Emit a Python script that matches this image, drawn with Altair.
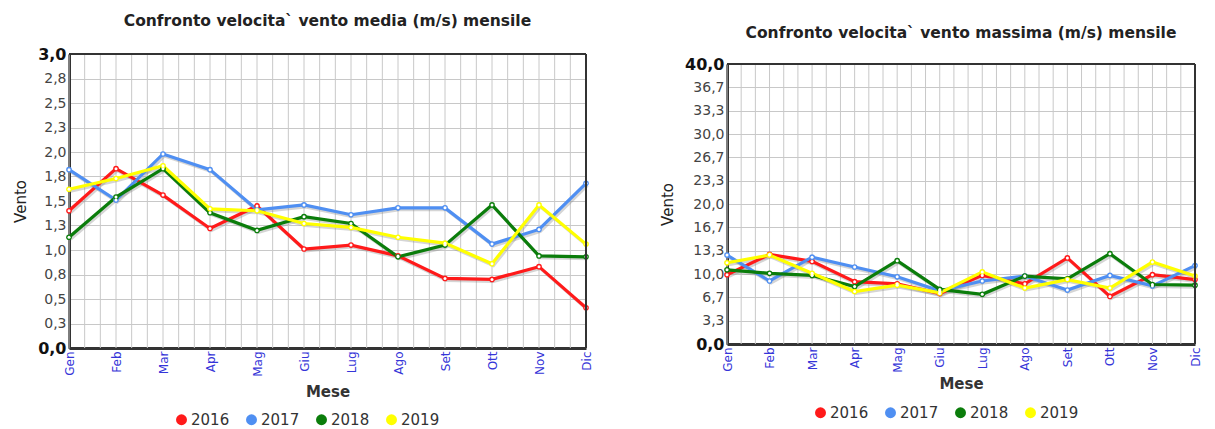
import altair as alt
import pandas as pd

months = ["Gen", "Feb", "Mar", "Apr", "Mag", "Giu", "Lug", "Ago", "Set", "Ott", "Nov", "Dic"]
years = ["2016", "2017", "2018", "2019"]
colors = ["#ff1a1a", "#4f8ff2", "#0b7d0b", "#ffff00"]

media_2016 = [1.40, 1.83, 1.56, 1.22, 1.45, 1.01, 1.05, 0.94, 0.71, 0.70, 0.83, 0.41]
media_2017 = [1.82, 1.51, 1.98, 1.82, 1.41, 1.46, 1.36, 1.43, 1.43, 1.06, 1.21, 1.68]
media_2018 = [1.13, 1.54, 1.83, 1.38, 1.20, 1.34, 1.27, 0.93, 1.05, 1.46, 0.94, 0.93]
media_2019 = [1.62, 1.73, 1.86, 1.42, 1.40, 1.27, 1.23, 1.13, 1.07, 0.86, 1.46, 1.06]

massima_2016 = [9.9, 12.8, 11.8, 8.9, 8.6, 7.2, 9.8, 8.6, 12.3, 6.8, 9.9, 9.2]
massima_2017 = [12.7, 9.0, 12.4, 11.0, 9.6, 7.6, 9.0, 9.7, 7.7, 9.8, 8.3, 11.2]
massima_2018 = [10.6, 10.1, 9.8, 8.2, 11.9, 7.8, 7.1, 9.7, 9.3, 12.9, 8.5, 8.4]
massima_2019 = [11.6, 12.7, 10.1, 7.5, 8.4, 7.3, 10.3, 8.0, 9.2, 8.0, 11.7, 9.7]

media_ticks = [0.0, 0.25, 0.5, 0.75, 1.0, 1.25, 1.5, 1.75, 2.0, 2.25, 2.5, 2.75, 3.0]
massima_ticks = [0.0, 10 / 3, 20 / 3, 10.0, 40 / 3, 50 / 3, 20.0, 70 / 3, 80 / 3, 30.0, 100 / 3, 110 / 3, 40.0]
x_grid = [i / 3 for i in range(34)]

FONT = "DejaVu Sans"
GRID = "#c8c8c8"
FRAME = "#333"


def long_table(series):
    rows = []
    for y, vals in zip(years, series):
        for i, v in enumerate(vals):
            rows.append({"idx": i, "mese": months[i], "year": y, "value": v})
    return pd.DataFrame(rows)


month_array = "[" + ",".join("'" + m + "'" for m in months) + "]"
x_label_expr = f"abs(datum.value - round(datum.value)) < 0.01 ? {month_array}[round(datum.value)] : ''"
y_label_expr = "replace(format(datum.value, '.1f'), '.', ',')"


def panel(df, ymax, ticks, title, width, height, top_gap, title_offset, title_dy,
          ytitle_pad, xtitle_pad, legend_x, legend_y):
    ext = f"datum.value == 0 || datum.value == {ymax}"
    xscale = alt.Scale(domain=[0, 11], nice=False, zero=False)
    yscale = alt.Scale(domain=[0, ymax], nice=False, zero=True, range=[height, top_gap])
    x_axis = alt.Axis(values=x_grid, labelExpr=x_label_expr, ticks=False, grid=False,
                      title="Mese", labelAngle=270, labelOverlap=False, labelFlush=False,
                      labelColor="#3535d8", labelFontSize=12, labelFont=FONT, labelPadding=3,
                      titleFont=FONT, titleFontSize=15, titleFontWeight="bold", titleColor="#333",
                      titlePadding=xtitle_pad, domainColor=FRAME, domainWidth=3)
    y_axis = alt.Axis(values=ticks, labelExpr=y_label_expr, ticks=False, grid=True,
                      title="Vento", labelFont=FONT, labelPadding=3,
                      labelFontSize={"condition": {"test": ext, "value": 16}, "value": 14},
                      labelFontWeight={"condition": {"test": ext, "value": "bold"}, "value": "normal"},
                      labelColor={"condition": {"test": ext, "value": "#111"}, "value": "#444"},
                      titleFont=FONT, titleFontSize=15, titleFontWeight="normal", titleColor="#222",
                      titlePadding=ytitle_pad, domainColor=FRAME, domainWidth=3,
                      gridColor=GRID, gridWidth=1)
    color_scale = alt.Scale(domain=years, range=colors)

    def xd(v):
        return alt.X(datum=v, type="quantitative", scale=xscale, axis=x_axis)

    def yd(v):
        return alt.Y(datum=v, type="quantitative", scale=yscale, axis=y_axis)

    vgrid = alt.Chart(pd.DataFrame({"g": x_grid})).mark_rule(color=GRID, strokeWidth=1).encode(
        x=alt.X("g:Q", scale=xscale, axis=x_axis), y=yd(0), y2=alt.datum(ymax))
    frame_top = alt.Chart(pd.DataFrame({"a": [0]})).mark_rule(color=FRAME, strokeWidth=2).encode(
        x=xd(0), x2=alt.datum(11), y=yd(ymax))
    frame_right = alt.Chart(pd.DataFrame({"a": [0]})).mark_rule(color=FRAME, strokeWidth=2).encode(
        x=xd(11), y=yd(0), y2=alt.datum(ymax))

    x = alt.X("idx:Q", scale=xscale, axis=x_axis)
    y = alt.Y("value:Q", scale=yscale, axis=y_axis)
    base = alt.Chart(df).encode(x=x, y=y)
    shadow = base.mark_line(color="#888", opacity=0.35, strokeWidth=3, xOffset=1.5, yOffset=2).encode(
        detail="year:N")
    lines = base.mark_line(strokeWidth=3.2).encode(
        color=alt.Color("year:N", scale=color_scale, legend=None))
    dots = base.mark_circle(size=32, opacity=1).encode(
        color=alt.Color("year:N", scale=color_scale,
                        legend=alt.Legend(title=None, orient="none", legendX=legend_x, legendY=legend_y,
                                          direction="horizontal", symbolType="circle", symbolSize=120,
                                          symbolStrokeWidth=0, labelFontSize=15, labelFont=FONT,
                                          labelColor="#333", columnPadding=14, labelOffset=2)))
    inner = base.mark_circle(size=9, color="white", opacity=1)
    return alt.layer(vgrid, shadow, lines, dots, inner, frame_top, frame_right).properties(
        width=width, height=height,
        title=alt.TitleParams(title, font=FONT, fontSize=15.5, fontWeight="bold", color="#222",
                              anchor="middle", offset=title_offset, dy=title_dy),
        view=alt.ViewBackground(stroke=None),
    ).resolve_scale(color="independent")


left = panel(long_table([media_2016, media_2017, media_2018, media_2019]), 3, media_ticks,
             "Confronto velocita` vento media (m/s) mensile", 517, 294, 0, 17, 0, 9, 8, 105, 358)
right = panel(long_table([massima_2016, massima_2017, massima_2018, massima_2019]), 40, massima_ticks,
              "Confronto velocita` vento massima (m/s) mensile", 468, 290, 10, 17, 4, 9, 4, 86, 351)

chart = alt.hconcat(left, right, spacing=66).resolve_scale(
    color="independent").resolve_legend(color="independent").properties(
    padding={"left": 5, "top": 5, "right": 0, "bottom": 0}).configure(font=FONT)

chart.save("out.html", embed_options={"renderer": "svg", "actions": False})
